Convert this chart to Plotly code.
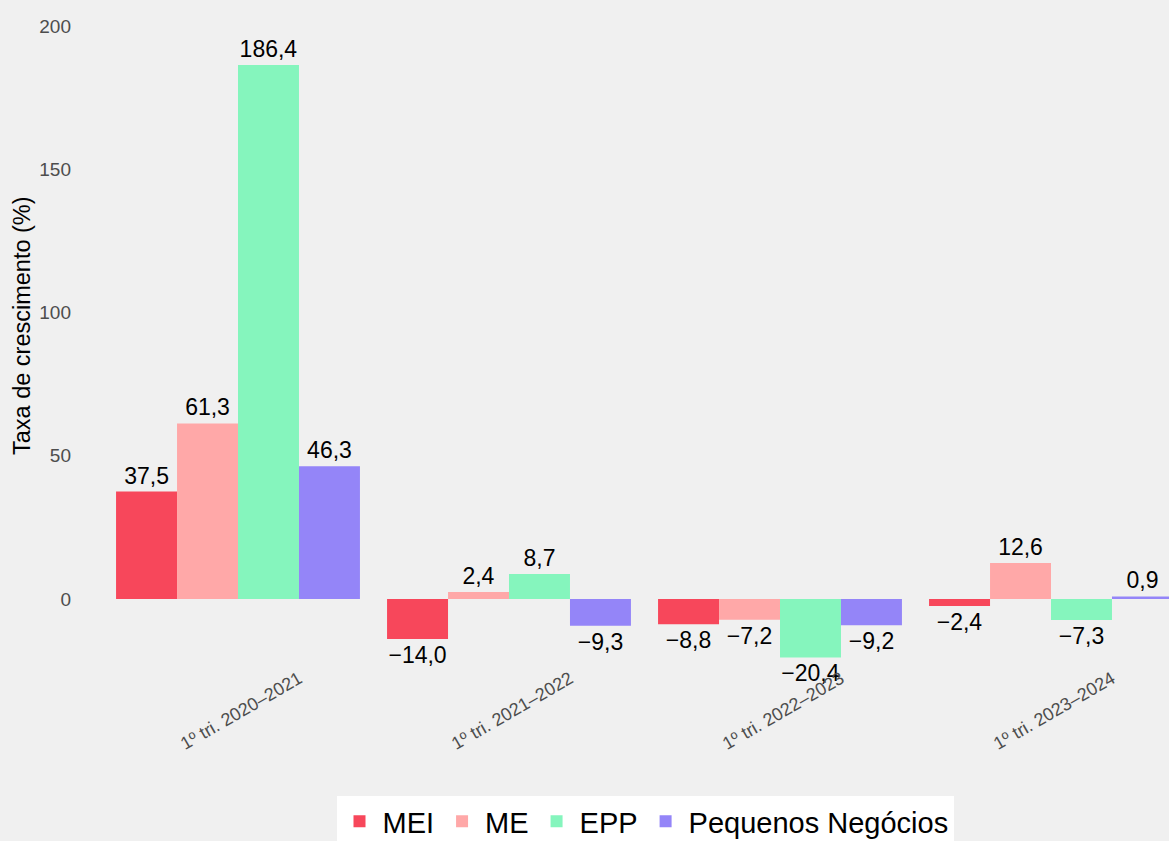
import plotly.graph_objects as go

categories = ["1º tri. 2020–2021", "1º tri. 2021–2022", "1º tri. 2022–2023", "1º tri. 2023–2024"]
series_names = ["MEI", "ME", "EPP", "Pequenos Negócios"]
mei = [37.5, -14.0, -8.8, -2.4]
me = [61.3, 2.4, -7.2, 12.6]
epp = [186.4, 8.7, -20.4, -7.3]
pn = [46.3, -9.3, -9.2, 0.9]
colors = ["#f7475b", "#ffa8a8", "#85f5bd", "#9485f8"]
y_ticks = [0, 50, 100, 150, 200]


def fmt(v):
    s = f"{abs(v):.1f}".replace(".", ",")
    return ("−" + s) if v < 0 else s


# pixel geometry of plot area
W, H = 1169, 841
L, R, T, B = 80, 1169, 10, 670
ppu = (599 - 26) / 200.0
y_top = (599 - T) / ppu
y_bot = -(B - 599) / ppu
cat_spacing = 271.0
x_left = (L - 238) / cat_spacing
x_right = (R - 238) / cat_spacing


def py(pix):
    return (B - pix) / (B - T)


def px(pix):
    return (pix - L) / (R - L)


fig = go.Figure()
for name, vals, col in zip(series_names, [mei, me, epp, pn], colors):
    fig.add_trace(go.Bar(
        x=categories, y=vals, name=name, marker_color=col, marker_line_width=0,
        text=[fmt(v) for v in vals], textposition="outside", constraintext="none",
        textfont=dict(size=23, color="black"), cliponaxis=False,
    ))

for c in categories:
    fig.add_annotation(x=c, y=py(711), xref="x", yref="paper", text=c, showarrow=False,
                       textangle=-30, xanchor="center", yanchor="middle", xshift=3,
                       font=dict(size=18, color="#4d4d4d"))

fig.add_annotation(x=px(22), y=py(326), xref="paper", yref="paper", text="Taxa de crescimento (%)",
                   showarrow=False, textangle=-90, xanchor="center", yanchor="middle",
                   font=dict(size=23.5, color="black"))

fig.update_layout(
    width=W, height=H,
    margin=dict(l=L, r=W - R, t=T, b=H - B, autoexpand=False),
    paper_bgcolor="#f0f0f0", plot_bgcolor="#f0f0f0",
    font=dict(family="Liberation Sans, Arial, sans-serif"),
    barmode="group", bargap=0.1, bargroupgap=0,
    showlegend=True,
    legend=dict(orientation="h", x=px(645), xanchor="center", y=py(796), yanchor="top",
                bgcolor="white", font=dict(size=29, color="black"), traceorder="normal",
                itemwidth=36),
    xaxis=dict(range=[x_left, x_right], showticklabels=False, showgrid=False, zeroline=False,
               showline=False, ticks=""),
    yaxis=dict(range=[y_bot, y_top], tickvals=y_ticks, showgrid=False, zeroline=False,
               showline=False, ticks="", ticklabelstandoff=8,
               tickfont=dict(size=19, color="#4d4d4d")),
)

fig.write_html("out.html", config={"displayModeBar": False},
               post_script="document.body.style.margin='0';document.body.style.padding='0';")
